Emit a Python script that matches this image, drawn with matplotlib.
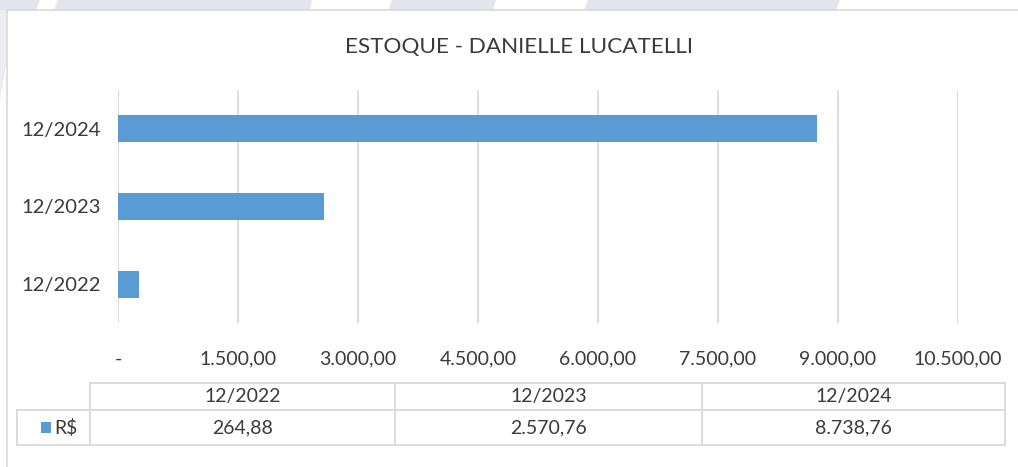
import matplotlib.pyplot as plt
from matplotlib.patches import Polygon, Rectangle

plt.rcParams['font.family'] = ['Lato', 'DejaVu Sans']

# -------- DATA --------
periods = ["12/2022", "12/2023", "12/2024"]
values = [264.88, 2570.76, 8738.76]
value_labels = ["264,88", "2.570,76", "8.738,76"]
x_ticks = [0, 1500, 3000, 4500, 6000, 7500, 9000, 10500]
x_tick_labels = ["-", "1.500,00", "3.000,00", "4.500,00", "6.000,00",
                 "7.500,00", "9.000,00", "10.500,00"]
series_name = "R$"
title = "ESTOQUE - DANIELLE LUCATELLI"

BAR_COLOR = "#5b9bd5"
TEXT_COLOR = "#3a3a3a"
GRID_COLOR = "#d9d9d9"
W, H = 1018, 467

fig = plt.figure(figsize=(W / 100, H / 100), dpi=100)
fig.patch.set_facecolor("white")

# background layer in pixel coords (watermark band + chart frame)
bg = fig.add_axes([0, 0, 1, 1])
bg.set_xlim(0, W)
bg.set_ylim(H, 0)
bg.axis("off")
bg.add_patch(Rectangle((0, 0), W, 10, color="#e4e4ee", lw=0, zorder=0))
bg.add_patch(Polygon([(0, 10), (7, 10), (7, 60), (0, 100)], color="#ececf3", lw=0))
for pts in [[(40, 0), (58, 0), (54, 10), (36, 10)],
            [(312, 0), (392, 0), (388, 10), (310, 10)],
            [(496, 0), (588, 0), (584, 10), (493, 10)],
            [(840, 0), (1018, 0), (1018, 10), (836, 10)]]:
    bg.add_patch(Polygon(pts, color="white", lw=0))
bg.add_patch(Rectangle((7, 10), W, H, facecolor="white", edgecolor="#d9d9d9", lw=1.2))

bg.text(519, 47, title, ha="center", va="center", fontsize=16.2, color=TEXT_COLOR)

# -------- BAR CHART --------
ax = fig.add_axes([118 / W, 1 - 323 / H, 840 / W, 233 / H])
ax.patch.set_alpha(0)
ax.barh(range(len(periods)), values, height=0.35, color=BAR_COLOR, zorder=3)
ax.set_xlim(0, 10500)
ax.set_ylim(-0.5, len(periods) - 0.5)
ax.set_xticks(x_ticks)
ax.set_xticklabels(x_tick_labels)
ax.set_yticks(range(len(periods)))
ax.set_yticklabels(periods)
ax.grid(axis="x", color=GRID_COLOR, lw=1.3, zorder=0)
ax.tick_params(axis="both", length=0, labelsize=14, colors=TEXT_COLOR)
ax.tick_params(axis="x", pad=20)
ax.tick_params(axis="y", pad=12, labelsize=14.5)
for s in ax.spines.values():
    s.set_visible(False)

# -------- DATA TABLE --------
col_edges = [90, 395, 702, 1005]
row_top, row_mid, row_bot = 383, 410, 445
line_kw = dict(color="#d9d9d9", lw=1.3)
bg.plot([col_edges[0], col_edges[-1]], [row_top, row_top], **line_kw)
bg.plot([17, col_edges[-1]], [row_mid, row_mid], **line_kw)
bg.plot([17, col_edges[-1]], [row_bot, row_bot], **line_kw)
bg.plot([17, 17], [row_mid, row_bot], **line_kw)
for x in col_edges:
    bg.plot([x, x], [row_top, row_bot], **line_kw)

for i, (p, v) in enumerate(zip(periods, value_labels)):
    cx = (col_edges[i] + col_edges[i + 1]) / 2
    bg.text(cx, (row_top + row_mid) / 2, p, ha="center", va="center",
            fontsize=14, color=TEXT_COLOR)
    bg.text(cx, (row_mid + row_bot) / 2, v, ha="center", va="center",
            fontsize=14, color=TEXT_COLOR)

bg.add_patch(Rectangle((41, 422), 10, 11, color=BAR_COLOR, lw=0))
bg.text(54, (row_mid + row_bot) / 2, series_name, ha="left", va="center",
        fontsize=14, color=TEXT_COLOR)

fig.savefig("out.png", dpi=100)
